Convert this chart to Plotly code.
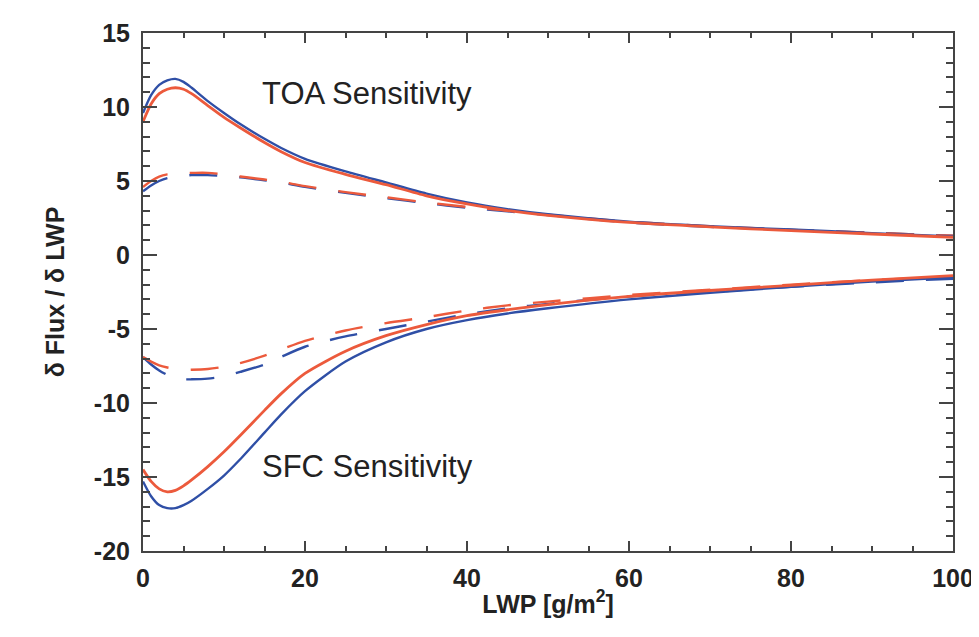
"""dFlux/dLWP sensitivity curves, TOA and SFC, two configurations (blue/red), solid and dashed."""

import plotly.graph_objects as go

# LWP grid [g/m2]
lwp = [0, 1, 2, 3, 4, 5, 6, 8, 10, 12, 15, 17, 20, 25, 30, 35, 40, 45, 50, 60, 70, 80, 90, 100]

# TOA sensitivity
toa_blue_solid = [9.6, 10.8, 11.5, 11.8, 11.9, 11.7, 11.3, 10.4, 9.6, 8.85, 7.85, 7.25, 6.5,
                  5.65, 4.9, 4.15, 3.55, 3.1, 2.75, 2.25, 1.95, 1.72, 1.48, 1.25]
toa_red_solid = [9.0, 10.2, 10.9, 11.2, 11.3, 11.2, 10.9, 10.1, 9.3, 8.6, 7.6, 7.0, 6.25,
                 5.45, 4.75, 4.0, 3.45, 3.0, 2.68, 2.2, 1.9, 1.65, 1.42, 1.2]
toa_blue_dash = [4.3, 4.7, 5.0, 5.2, 5.3, 5.35, 5.4, 5.4, 5.35, 5.25, 5.05, 4.9, 4.6,
                 4.2, 3.85, 3.5, 3.2, 2.95, 2.7, 2.2, 1.9, 1.7, 1.5, 1.3]
toa_red_dash = [4.6, 5.0, 5.3, 5.45, 5.5, 5.55, 5.55, 5.55, 5.45, 5.3, 5.1, 4.95, 4.65,
                4.25, 3.9, 3.55, 3.25, 3.0, 2.72, 2.25, 1.95, 1.7, 1.5, 1.3]

# SFC sensitivity
sfc_blue_solid = [-15.3, -16.3, -16.9, -17.1, -17.1, -16.9, -16.6, -15.8, -14.9, -13.8, -12.0,
                  -10.8, -9.2, -7.2, -5.9, -5.0, -4.4, -3.95, -3.6, -3.0, -2.55, -2.15, -1.8, -1.5]
sfc_red_solid = [-14.5, -15.3, -15.8, -16.0, -15.9, -15.6, -15.2, -14.3, -13.3, -12.2, -10.5,
                 -9.4, -8.0, -6.5, -5.45, -4.7, -4.1, -3.7, -3.35, -2.8, -2.4, -2.05, -1.7, -1.4]
sfc_blue_dash = [-6.9, -7.4, -7.8, -8.1, -8.3, -8.4, -8.4, -8.35, -8.2, -7.9, -7.4, -6.9, -6.2,
                 -5.5, -5.0, -4.5, -4.0, -3.6, -3.3, -2.8, -2.5, -2.15, -1.85, -1.6]
sfc_red_dash = [-6.9, -7.2, -7.45, -7.6, -7.7, -7.75, -7.75, -7.7, -7.55, -7.3, -6.8, -6.4, -5.8,
                -5.1, -4.6, -4.2, -3.75, -3.4, -3.15, -2.7, -2.35, -2.0, -1.7, -1.45]

# tick labels (plain hyphen minus, as in the original)
x_ticks = [0, 20, 40, 60, 80, 100]
x_labels = ["0", "20", "40", "60", "80", "100"]
y_ticks = [-20, -15, -10, -5, 0, 5, 10, 15]
y_labels = ["-20", "-15", "-10", "-5", "0", "5", "10", "15"]

BLUE = "#2f4fa6"
RED = "#ec5a3c"
INK = "#222"
FONT = "Liberation Sans, Arial, sans-serif"
DASH = "28px,22px"

fig = go.Figure()
curves = [
    (toa_blue_dash, BLUE, DASH, 2.4),
    (toa_red_dash, RED, DASH, 2.4),
    (sfc_blue_dash, BLUE, DASH, 2.4),
    (sfc_red_dash, RED, DASH, 2.4),
    (toa_blue_solid, BLUE, "solid", 2.4),
    (toa_red_solid, RED, "solid", 2.8),
    (sfc_blue_solid, BLUE, "solid", 2.4),
    (sfc_red_solid, RED, "solid", 2.8),
]
for ys, col, dash, w in curves:
    fig.add_trace(go.Scatter(x=lwp, y=ys, mode="lines", showlegend=False,
                             line=dict(color=col, width=w, dash=dash, shape="spline", smoothing=0.7)))

for label, yy in (("TOA Sensitivity", 10.9), ("SFC Sensitivity", -14.3)):
    fig.add_annotation(x=14.4, y=yy, text=label, showarrow=False, xanchor="left",
                       yanchor="middle", font=dict(family=FONT, size=31, color=INK))

axis_common = dict(showline=True, linecolor="#444", linewidth=2, mirror="allticks",
                   ticks="inside", tickcolor="#444", tickwidth=2, showgrid=False, zeroline=False,
                   automargin=False, tickmode="array",
                   tickfont=dict(family=FONT, size=25, color=INK, weight="bold"))
title_font = dict(family=FONT, size=25, color=INK, weight="bold")

fig.update_xaxes(range=[0, 100], tickvals=x_ticks, ticktext=x_labels, ticklen=10,
                 ticklabelstandoff=4,
                 minor=dict(ticks="inside", dtick=5, tick0=0, ticklen=5, tickcolor="#444", tickwidth=2),
                 title=dict(text="LWP [g/m<sup>2</sup>]", standoff=4, font=title_font),
                 **axis_common)
fig.update_yaxes(range=[-20, 15], tickvals=y_ticks, ticktext=y_labels, ticklen=14,
                 ticklabelstandoff=6,
                 minor=dict(ticks="inside", dtick=1, tick0=0, ticklen=7, tickcolor="#444", tickwidth=2),
                 title=dict(text="δ Flux / δ LWP", standoff=22, font=title_font),
                 **axis_common)

# the page body adds an 8px offset, so the figure is sized to leave the plot box where the original has it
fig.update_layout(width=971, height=629, margin=dict(l=135, r=26, t=25, b=86),
                  paper_bgcolor="white", plot_bgcolor="white")

fig.write_html("out.html")
